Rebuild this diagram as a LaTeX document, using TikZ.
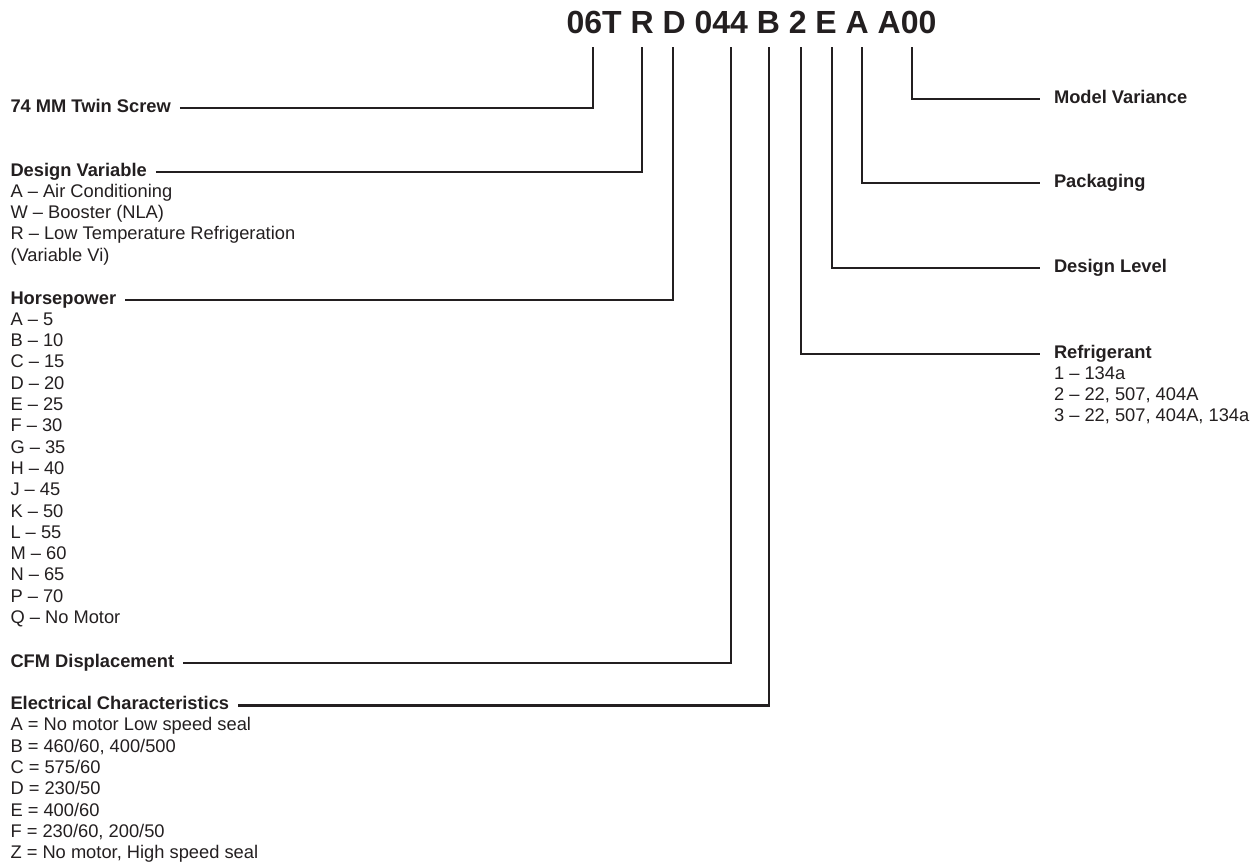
\documentclass[tikz,border=0pt]{standalone}
\usepackage{fontspec}
\setmainfont{Liberation Sans}
\definecolor{ink}{HTML}{231F20}
\begin{document}
\begin{tikzpicture}[x=1pt,y=-1pt,
  hdr/.style={anchor=base west, inner sep=0pt, outer sep=0pt, text=ink,
    font=\fontsize{18.3}{21.3}\selectfont\bfseries},
  itm/.style={anchor=base west, inner sep=0pt, outer sep=0pt, text=ink,
    font=\fontsize{18.3}{21.3}\selectfont},
  lead/.style={draw=ink, line width=2.5pt, line join=miter, line cap=butt}]
\useasboundingbox (0,0) rectangle (1255,863);

% title
\node[anchor=base, inner sep=0pt, text=ink, font=\fontsize{32}{36}\selectfont\bfseries]
  (title) at (751.5,33.5) {06T R D 044 B 2 E A A00};

% tops of the leader lines
\coordinate (tA) at (593,47);
\coordinate (tB) at (642,47);
\coordinate (tC) at (673,47);
\coordinate (tD) at (731,47);
\coordinate (tE) at (769,47);
\coordinate (tF) at (801,47);
\coordinate (tG) at (832,47);
\coordinate (tH) at (862,47);
\coordinate (tI) at (912,47);

% left headers
\node[hdr] (twin) at (10.5,112) {74 MM Twin Screw};
\node[hdr] (dvar) at (10.5,176) {Design Variable};
\node[hdr] (hp)   at (10.5,304) {Horsepower};
\node[hdr] (cfm)  at (10.5,667) {CFM Displacement};
\node[hdr] (elec) at (10.5,709.5) {Electrical Characteristics};

% left lists
\foreach \t [count=\i] in {A -- Air Conditioning, W -- Booster (NLA),
    R -- Low Temperature Refrigeration, (Variable Vi)}
  \node[itm] (dv\i) at (10.5,{176+\i*21.3}) {\t};
\foreach \t [count=\i] in {A -- 5, B -- 10, C -- 15, D -- 20, E -- 25, F -- 30,
    G -- 35, H -- 40, J -- 45, K -- 50, L -- 55, M -- 60, N -- 65, P -- 70, Q -- No Motor}
  \node[itm] (hp\i) at (10.5,{304+\i*21.3}) {\t};
\foreach \t [count=\i] in {A = No motor Low speed seal, {B = 460/60, 400/500}, C = 575/60,
    D = 230/50, E = 400/60, {F = 230/60, 200/50}, {Z = No motor, High speed seal}}
  \node[itm] (ec\i) at (10.5,{709.5+\i*21.3}) {\t};

% right headers
\node[hdr] (mv)  at (1054,103) {Model Variance};
\node[hdr] (pk)  at (1054,187) {Packaging};
\node[hdr] (dl)  at (1054,272) {Design Level};
\node[hdr] (rf)  at (1054,358) {Refrigerant};
\foreach \t [count=\i] in {1 -- 134a, {2 -- 22, 507, 404A}, {3 -- 22, 507, 404A, 134a}}
  \node[itm] (rf\i) at (1054,{358+\i*21.3}) {\t};

% leader lines, left side
\draw[lead] ([xshift=9pt,yshift=4pt]twin.base east) -| (tA);
\draw[lead] ([xshift=9pt,yshift=4pt]dvar.base east) -| (tB);
\draw[lead] ([xshift=9pt,yshift=4pt]hp.base east) -| (tC);
\draw[lead] ([xshift=9pt,yshift=4pt]cfm.base east) -| (tD);
\draw[lead] ([xshift=9pt,yshift=4pt]elec.base east) -| (tE);

% leader lines, right side
\draw[lead] (tI) |- ([xshift=-14pt,yshift=4pt]mv.base west);
\draw[lead] (tH) |- ([xshift=-14pt,yshift=4pt]pk.base west);
\draw[lead] (tG) |- ([xshift=-14pt,yshift=4pt]dl.base west);
\draw[lead] (tF) |- ([xshift=-14pt,yshift=4pt]rf.base west);
\end{tikzpicture}
\end{document}
